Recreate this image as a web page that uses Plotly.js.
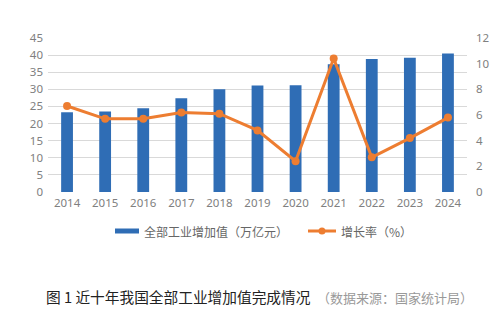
<!DOCTYPE html>
<html><head><meta charset="utf-8">
<script src="https://cdn.plot.ly/plotly-3.0.1.min.js"></script>
<style>html,body{margin:0;padding:0;background:#fff}#c{width:500px;height:321px}</style>
</head><body><div id="c"></div>
<script>
const years = ['2014','2015','2016','2017','2018','2019','2020','2021','2022','2023','2024'];
const valueAdded = [23.3, 23.5, 24.5, 27.4, 30.0, 31.1, 31.2, 37.3, 38.9, 39.2, 40.5];
const growthRate = [6.7, 5.7, 5.7, 6.2, 6.1, 4.8, 2.4, 10.4, 2.7, 4.2, 5.8];
const leftTicks = [0,5,10,15,20,25,30,35,40,45];
const rightTicks = [0,2,4,6,8,10,12];
const barName = '全部工业增加值（万亿元）';
const lineName = '增长率（%）';
const caption = '图 1 近十年我国全部工业增加值完成情况';
const source = '（数据来源：国家统计局）';

const blue = '#2F6DB5', orange = '#ED7D31';
const tickFont = {family:'Noto Sans, Liberation Sans, sans-serif', size:11.5, color:'#808080'};
const px = X => (X - 48) / 419;
const py = Y => (192 - Y) / 154;

const data = [
  {type:'bar', x:years, y:valueAdded, name:barName, marker:{color:blue}, width:0.31, yaxis:'y', hoverinfo:'skip'},
  {type:'scatter', mode:'lines+markers', x:years, y:growthRate, name:lineName, yaxis:'y2',
   line:{color:orange, width:3}, marker:{color:orange, size:8}, cliponaxis:false}
];
const layout = {
  width:500, height:321, margin:{l:48, r:33, t:38, b:129},
  paper_bgcolor:'#fff', plot_bgcolor:'#fff', showlegend:false,
  font:{family:'Noto Sans CJK SC, Noto Sans, sans-serif'},
  xaxis:{type:'category', range:[-0.5,10.5], tickfont:tickFont, showgrid:false, zeroline:false,
         showline:false, ticks:'', ticklabelstandoff:2},
  yaxis:{range:[0,45], tickvals:leftTicks, tickfont:tickFont, gridcolor:'#d9d9d9', gridwidth:1,
         zeroline:false, showline:false, ticks:'', ticklabelstandoff:4},
  yaxis2:{range:[0,12], tickvals:rightTicks, overlaying:'y', side:'right', tickfont:tickFont,
          showgrid:false, zeroline:false, showline:false, ticks:'', ticklabelstandoff:8},
  shapes:[
    {type:'rect', xref:'paper', yref:'paper', x0:px(115), x1:px(139), y0:py(233.5), y1:py(228.5),
     fillcolor:blue, line:{width:0}},
    {type:'line', xref:'paper', yref:'paper', x0:px(308), x1:px(336), y0:py(231), y1:py(231),
     line:{color:orange, width:3}},
    {type:'circle', xref:'paper', yref:'paper', x0:px(318.5), x1:px(325.5), y0:py(234.5), y1:py(227.5),
     fillcolor:orange, line:{width:0}}
  ],
  annotations:[
    {xref:'paper', yref:'paper', x:px(142), y:py(231), xanchor:'left', yanchor:'middle', showarrow:false,
     text:barName, font:{family:'Noto Sans CJK SC', size:12, color:'#666'}},
    {xref:'paper', yref:'paper', x:px(339), y:py(231), xanchor:'left', yanchor:'middle', showarrow:false,
     text:lineName, font:{family:'Noto Sans CJK SC', size:12, color:'#666'}},
    {xref:'paper', yref:'paper', x:px(44), y:py(296), xanchor:'left', yanchor:'middle', showarrow:false,
     text:caption + '  <span style="color:#999;font-size:13px">' + source + '</span>',
     font:{family:'Noto Sans CJK SC', size:14.7, color:'#222'}}
  ]
};
Plotly.newPlot('c', data, layout, {staticPlot:true, displayModeBar:false});
</script></body></html>
